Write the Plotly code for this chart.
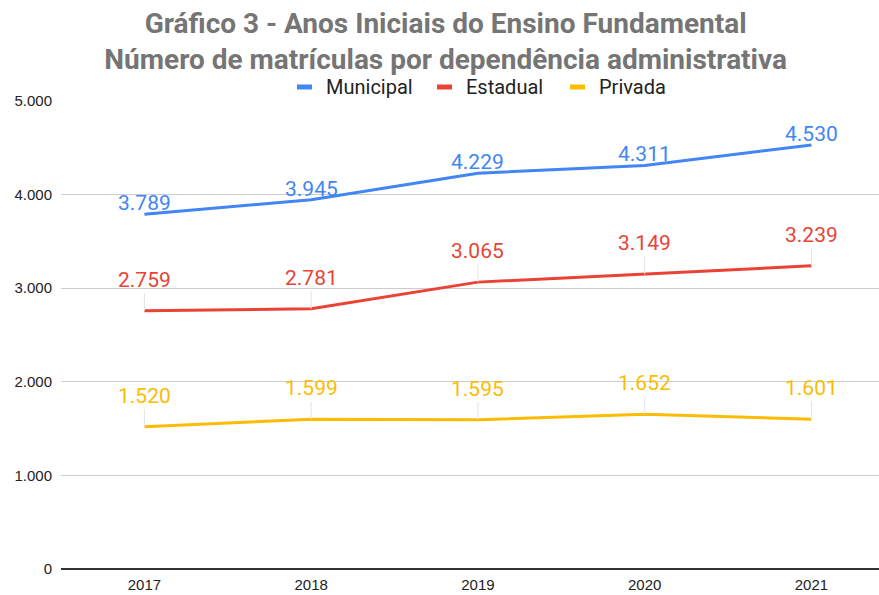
import plotly.graph_objects as go

years = ["2017", "2018", "2019", "2020", "2021"]
municipal = [3789, 3945, 4229, 4311, 4530]
estadual = [2759, 2781, 3065, 3149, 3239]
privada = [1520, 1599, 1595, 1652, 1601]
series_names = ["Municipal", "Estadual", "Privada"]
y_ticks = [0, 1000, 2000, 3000, 4000, 5000]

colors = ["#4285F4", "#EA4335", "#FBBC04"]
label_offsets = [-11, -31, -31]

# layout geometry (pixels)
W, H = 879, 595
ML, MR, MT, MB = 61, 0, 101, 26
legend_swatch_px = [297, 437, 570]   # left edge of each legend swatch
legend_y_px = 87

def fmt(v):
    return f"{v:,}".replace(",", ".")

def px_to_paper_x(px):
    return (px - ML) / (W - ML - MR)

def px_to_paper_y(py):
    return (H - MB - py) / (H - MT - MB)

fig = go.Figure()
annotations = []
shapes = []
for k, (name, vals, col, off) in enumerate(zip(series_names, [municipal, estadual, privada], colors, label_offsets)):
    fig.add_trace(go.Scatter(x=years, y=vals, mode="lines", name=name, showlegend=False,
                             line=dict(color=col, width=3)))
    for i, v in enumerate(vals):
        annotations.append(dict(x=i, y=v, xref="x", yref="y", text=fmt(v),
                                showarrow=True, arrowhead=0, arrowwidth=1,
                                arrowcolor="#e3e3e3", ax=0, ay=off, standoff=0,
                                font=dict(family="Roboto", size=21, color=col)))
    # custom legend
    sx = legend_swatch_px[k]
    shapes.append(dict(type="rect", xref="paper", yref="paper",
                       x0=px_to_paper_x(sx), x1=px_to_paper_x(sx + 15),
                       y0=px_to_paper_y(legend_y_px + 2.5), y1=px_to_paper_y(legend_y_px - 2.5),
                       fillcolor=col, line=dict(width=0)))
    annotations.append(dict(x=px_to_paper_x(sx + 27), y=px_to_paper_y(legend_y_px),
                            xref="paper", yref="paper", xanchor="left", yanchor="middle",
                            text=name, showarrow=False,
                            font=dict(family="Roboto", size=20, color="#222222")))

fig.update_layout(
    width=W, height=H,
    margin=dict(l=ML, r=MR, t=MT, b=MB),
    paper_bgcolor="white", plot_bgcolor="white",
    separators=",.",
    title=dict(text="Gráfico 3 - Anos Iniciais do Ensino Fundamental<br>Número de matrículas por dependência administrativa",
               x=0.507, xanchor="center", y=1 - 33 / H, yanchor="middle", yref="container",
               font=dict(family="Roboto", size=28, color="#757575", weight="bold")),
    annotations=annotations,
    shapes=shapes,
    showlegend=False,
)
fig.update_xaxes(type="category", range=[-0.5, 4.405], showgrid=False, showline=False,
                 ticks="", ticklabelstandoff=5,
                 tickfont=dict(family="Liberation Sans, Arial", size=15, color="#222222"),
                 zeroline=False)
fig.update_yaxes(range=[0, 5000], tickvals=y_ticks, tickformat=",d", showgrid=True,
                 gridcolor="#cccccc", gridwidth=1, zeroline=True, zerolinecolor="#333333",
                 zerolinewidth=1.5, showline=False, ticks="", ticklabelstandoff=8,
                 tickfont=dict(family="Liberation Sans, Arial", size=15, color="#222222"))

fig.write_html("out.html", config={"displayModeBar": False},
               post_script="document.body.style.margin='0';")
